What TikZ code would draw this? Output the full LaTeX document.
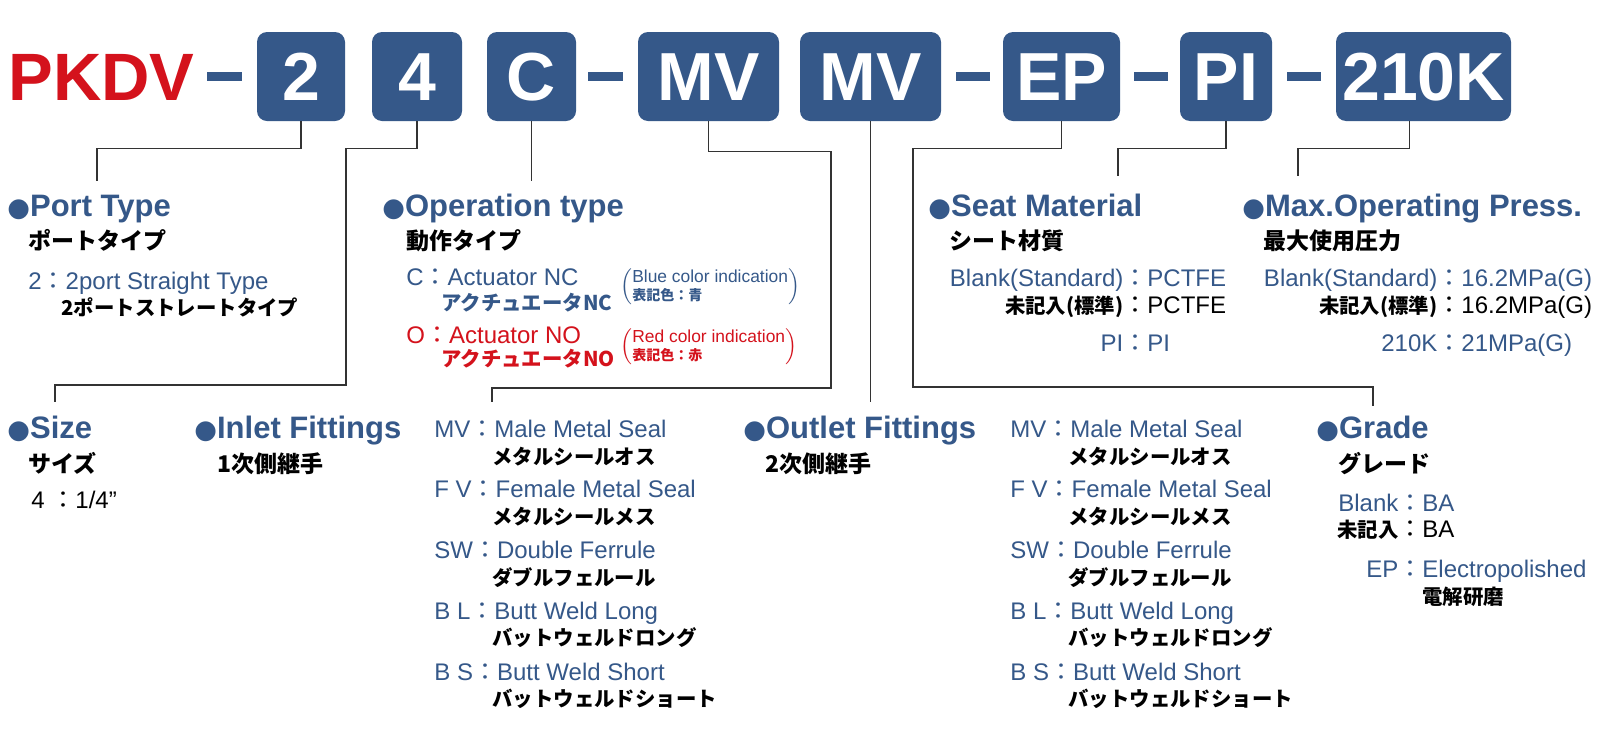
\documentclass[tikz,border=0pt]{standalone}
\usepackage{fontspec}
\setmainfont{Liberation Sans}
\newfontfamily\jp{Noto Sans CJK JP}
\newfontfamily\symf{DejaVu Sans}
\usepackage{xcolor}
\usepackage{tikz}
\definecolor{kblue}{RGB}{53,88,137}
\definecolor{kred}{RGB}{212,18,28}
\newcommand\cpair[3]{\makebox[#1][r]{#2}{\jp ：}#3}
\newcommand\dotmark{{\symf\fontsize{13}{13}\selectfont ●}}
\tikzset{
	code/.style={fill=kblue,text=white,rounded corners=5pt,minimum height=44.5pt,inner sep=0pt,
		text height=24.3pt,text depth=0pt,font=\fontsize{34}{34}\selectfont\bfseries},
	head/.style={anchor=base west,inner sep=0pt,text=kblue,font=\fontsize{15.5}{18}\selectfont\bfseries},
	sub/.style={anchor=base west,inner sep=0pt,font=\fontsize{11.5}{14}\selectfont\jp\bfseries},
	item/.style={anchor=base west,inner sep=0pt,text=kblue,font=\fontsize{12}{14}\selectfont},
	itemjp/.style={anchor=base west,inner sep=0pt,font=\fontsize{10.2}{12}\selectfont\jp\bfseries},
	note/.style={anchor=west,inner sep=0pt,font=\fontsize{8.7}{10}\selectfont},
	lead/.style={draw=black!80,line width=0.8pt}
}
\begin{document}
\begin{tikzpicture}[x=0.5pt,y=-0.5pt]
		\fill[white] (0,0) rectangle (1600,740);
		\useasboundingbox (0,0) rectangle (1600,740);
		\node[anchor=base west,inner sep=0pt,text=kred,font=\fontsize{33.5}{40}\selectfont\bfseries] (pkdv) at (8,100) {PKDV};
		\foreach \a/\b in {207/242,588/623,956/990,1134/1168,1287/1321}
			\fill[kblue] (\a,72) rectangle (\b,81);
		\node[code,minimum width=44pt] (b2) at (301,76.5) {2};
		\node[code,minimum width=45pt] (b4) at (417,76.5) {4};
		\node[code,minimum width=44.5pt] (bC) at (531.5,76.5) {C};
		\node[code,minimum width=70.5pt] (bMVa) at (708.5,76.5) {MV};
		\node[code,minimum width=70.5pt] (bMVb) at (870.5,76.5) {MV};
		\node[code,minimum width=58.5pt] (bEP) at (1061.5,76.5) {EP};
		\node[code,minimum width=46pt] (bPI) at (1226,76.5) {PI};
		\node[code,minimum width=87.5pt] (bK) at (1423.5,76.5) {210K};

		\coordinate (ptT) at (97,181);
		\coordinate (szT) at (55,402);
		\coordinate (opT) at (531.5,181);
		\coordinate (inT) at (492,402);
		\coordinate (outT) at (870.5,402);
		\coordinate (grT) at (1373,406);
		\coordinate (seT) at (1118,176);
		\coordinate (mxT) at (1298,176);
		\draw[lead] (b2.south) -- ++(0,27) -| (ptT);
		\draw[lead] (b4.south) -- ++(0,27) -| (346,385) -| (szT);
		\draw[lead] (bC.south) -- (opT);
		\draw[lead] (bMVa.south) -- ++(0,30) -| (831,388) -| (inT);
		\draw[lead] (bMVb.south) -- (outT);
		\draw[lead] (bEP.south) -- ++(0,27) -| (913,387) -| (grT);
		\draw[lead] (bPI.south) -- ++(0,27) -| (seT);
		\draw[lead] ([xshift=-7pt]bK.south) -- ++(0,27) -| (mxT);

		\node[head] (hPort) at (7,216) {\dotmark Port Type};
		\node[sub] (sPort) at (28,249) {ポートタイプ};
		\node[item] (iPort) at (28,289) {2{\jp ：}2port Straight Type};
		\node[itemjp] (jPort) at (61,315) {2ポートストレートタイプ};

		\node[head] (hOp) at (382,216) {\dotmark Operation type};
		\node[sub] (sOp) at (406,249) {動作タイプ};
		\node[item] (iNC) at (406,285) {C{\jp ：}Actuator NC};
		\node[itemjp,text=kblue] (jNC) at (441,310) {アクチュエータNC};
		\node[item,text=kred] (iNO) at (406,343) {O{\jp ：}Actuator NO};
		\node[itemjp,text=kred] (jNO) at (441,366) {アクチュエータNO};
		\node[note,text=kblue] (pNC) at (620,287) {$\left(\vcenter{\hbox{\begin{tabular}{@{}l@{}}Blue color indication\\[-1pt]{\jp\bfseries\fontsize{7}{8}\selectfont 表記色：青}\end{tabular}}}\right)$};
		\node[note,text=kred] (pNO) at (620,347) {$\left(\vcenter{\hbox{\begin{tabular}{@{}l@{}}Red color indication\\[-1pt]{\jp\bfseries\fontsize{7}{8}\selectfont 表記色：赤}\end{tabular}}}\right)$};

		\node[head] (hSeat) at (928,216) {\dotmark Seat Material};
		\node[sub] (sSeat) at (949,249) {シート材質};
		\node[item] (seA) at (949,286) {\cpair{87pt}{Blank(Standard)}{PCTFE}};
		\node[item,text=black] (seB) at (949,313) {\cpair{87pt}{\jp\bfseries\fontsize{10.2}{12}\selectfont 未記入(標準)}{PCTFE}};
		\node[item] (seC) at (949,351) {\cpair{87pt}{PI}{PI}};

		\node[head] (hMax) at (1242,216) {\dotmark Max.Operating Press.};
		\node[sub] (sMax) at (1263,249) {最大使用圧力};
		\node[item] (mxA) at (1263,286) {\cpair{87pt}{Blank(Standard)}{16.2MPa(G)}};
		\node[item,text=black] (mxB) at (1263,313) {\cpair{87pt}{\jp\bfseries\fontsize{10.2}{12}\selectfont 未記入(標準)}{16.2MPa(G)}};
		\node[item] (mxC) at (1263,351) {\cpair{87pt}{210K}{21MPa(G)}};

		\node[head] (hSize) at (7,438) {\dotmark Size};
		\node[sub] (sSize) at (28,472) {サイズ};
		\node[item,text=black] (iSize) at (31,508) {4\ {\jp ：}1/4”};

		\node[head] (hIn) at (194,438) {\dotmark Inlet Fittings};
		\node[sub] (sIn) at (217,472) {1次側継手};
		\node[head] (hOut) at (743,438) {\dotmark Outlet Fittings};
		\node[sub] (sOut) at (765,472) {2次側継手};
		\foreach \c/\e/\j [count=\i] in {MV/Male Metal Seal/メタルシールオス,F V/Female Metal Seal/メタルシールメス,
				SW/Double Ferrule/ダブルフェルール,B L/Butt Weld Long/バットウェルドロング,B S/Butt Weld Short/バットウェルドショート}{
			\node[item] (inE\i) at (434,376.25+60.75*\i) {\c{\jp ：}\e};
			\node[itemjp] (inJ\i) at (492,403.5+60.6*\i) {\j};
			\node[item] (outE\i) at (1010,376.25+60.75*\i) {\c{\jp ：}\e};
			\node[itemjp] (outJ\i) at (1068,403.5+60.6*\i) {\j};
		}

		\node[head] (hGr) at (1316,438) {\dotmark Grade};
		\node[sub] (sGr) at (1338,472) {グレード};
		\node[item] (grA) at (1338,511) {\cpair{30pt}{Blank}{BA}};
		\node[item,text=black] (grB) at (1338,537) {\cpair{30pt}{\jp\bfseries\fontsize{10.2}{12}\selectfont 未記入}{BA}};
		\node[item] (grC) at (1338,577) {\cpair{30pt}{EP}{Electropolished}};
		\node[itemjp] (grJ) at (1422,604) {電解研磨};
	\end{tikzpicture}
\end{document}
